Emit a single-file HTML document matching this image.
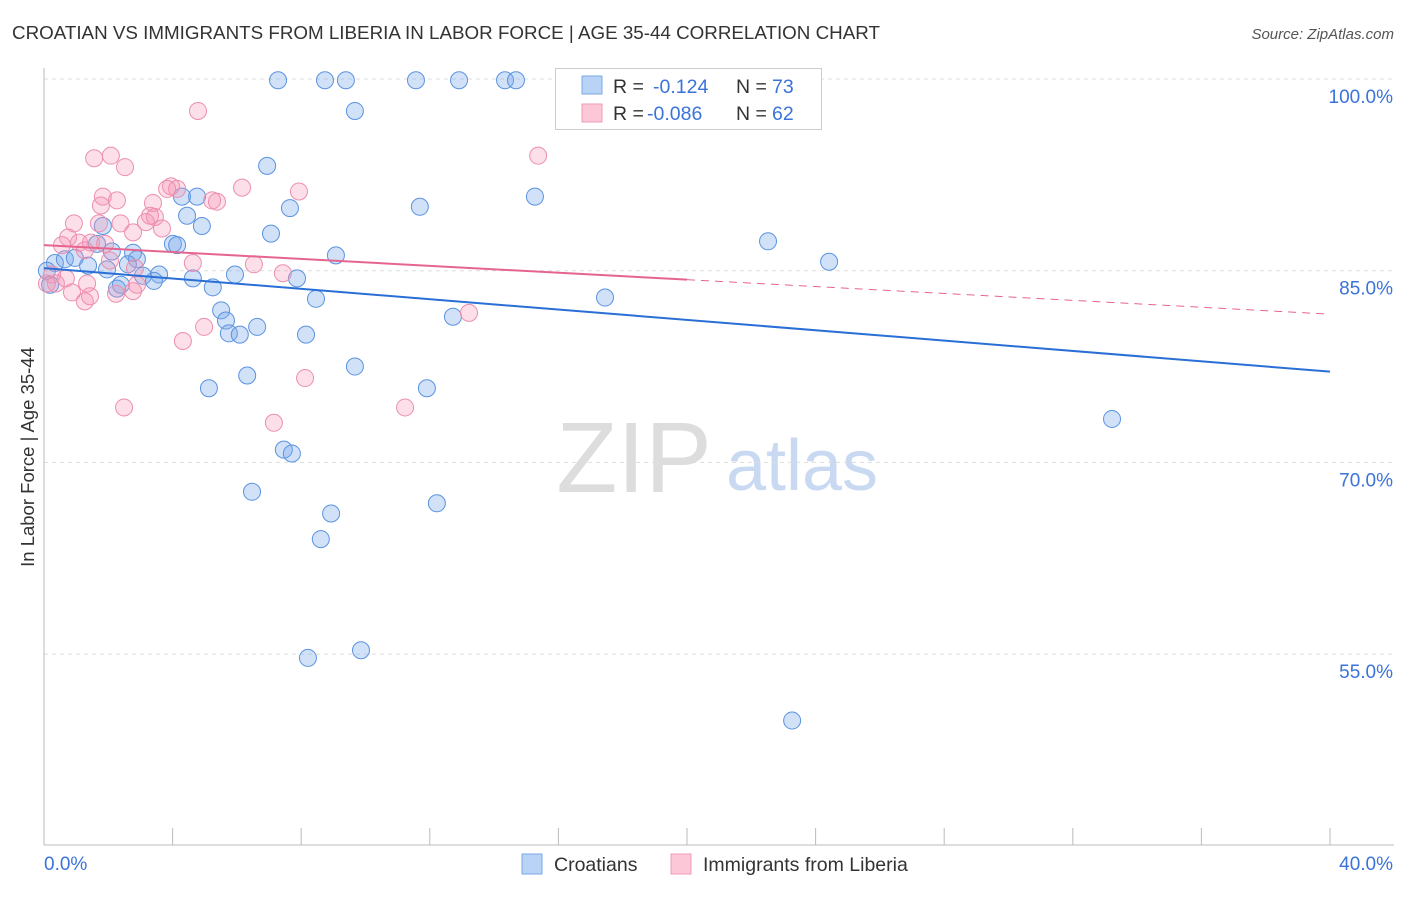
<!DOCTYPE html>
<html><head><meta charset="utf-8"><style>
body{margin:0;background:#fff;font-family:"Liberation Sans",sans-serif;}
svg text{font-family:"Liberation Sans",sans-serif;}
</style></head><body>
<svg id="chart" width="1406" height="892" xmlns="http://www.w3.org/2000/svg">
<text x="12" y="39" font-size="18.8" fill="#333">CROATIAN VS IMMIGRANTS FROM LIBERIA IN LABOR FORCE | AGE 35-44 CORRELATION CHART</text>
<text x="1394" y="39" font-size="15" fill="#555" font-style="italic" text-anchor="end">Source: ZipAtlas.com</text>
<text x="0" y="0" transform="translate(34,457) rotate(-90)" font-size="18.5" fill="#333" text-anchor="middle">In Labor Force | Age 35-44</text>
<g>
<text x="634" y="492" font-size="100" fill="#ddd" font-family="Liberation Serif" text-anchor="middle">ZIP</text>
<text x="802" y="490" font-size="72" fill="#c9d9f2" text-anchor="middle">atlas</text>
</g>
<g id="grid"></g><g id="axes"></g><g id="pts"></g><g id="trend"></g>
<g>
<rect x="555.5" y="68.5" width="266" height="61" fill="#fff" stroke="#ccc"/>
<rect x="582" y="76" width="20" height="18" fill="#b8d3f5" stroke="#7aa7e6"/>
<rect x="582" y="104" width="20" height="18" fill="#fcc8d8" stroke="#ef9bb6"/>
<text x="613" y="93" font-size="19.5" fill="#333">R = </text><text x="653" y="93" font-size="19.5" fill="#3b73d9">-0.124</text>
<text x="736" y="93" font-size="19.5" fill="#333">N = </text><text x="772" y="93" font-size="19.5" fill="#3b73d9">73</text>
<text x="613" y="120" font-size="19.5" fill="#333">R = </text><text x="647" y="120" font-size="19.5" fill="#3b73d9">-0.086</text>
<text x="736" y="120" font-size="19.5" fill="#333">N = </text><text x="772" y="120" font-size="19.5" fill="#3b73d9">62</text>
</g>
<g>
<rect x="522" y="854" width="20" height="20" fill="#b8d3f5" stroke="#7aa7e6"/>
<text x="554" y="871" font-size="19.5" fill="#333">Croatians</text>
<rect x="671" y="854" width="20" height="20" fill="#fcc8d8" stroke="#ef9bb6"/>
<text x="703" y="871" font-size="19.5" fill="#333">Immigrants from Liberia</text>
</g>
</svg>
<script>
const yTicks=[100,85,70,55];
const xTickLabels=["0.0%","40.0%"];
const blueX=[7.28,8.74,9.39,11.57,12.91,14.34,14.68,16.83,9.67,6.94,15.27,4.76,4.29,7.65,11.69,4.45,4.91,1.83,7.06,4.01,4.14,1.65,22.52,9.08,24.42,0.34,0.65,0.96,1.37,1.96,2.11,2.77,2.89,2.61,3.08,3.58,3.42,4.63,5.94,7.87,5.25,2.39,2.27,8.46,17.45,5.51,5.66,5.75,6.09,6.63,8.15,12.72,9.67,6.32,5.13,11.91,33.22,7.46,7.71,6.47,12.22,8.93,8.61,8.21,9.86,23.27,0.19,0.09];
const blueY=[99.9,99.9,99.9,99.9,99.9,99.9,99.9,99.9,97.5,93.2,90.8,90.8,90.8,89.9,90.0,89.3,88.5,88.5,87.9,87.1,87.0,87.1,87.3,86.2,85.7,85.6,85.9,86.0,85.4,85.1,86.5,86.4,85.9,85.5,84.6,84.7,84.2,84.4,84.7,84.4,83.7,83.9,83.6,82.8,82.9,81.9,81.1,80.1,80.0,80.6,80.0,81.4,77.5,76.8,75.8,75.8,73.4,71.0,70.7,67.7,66.8,66.0,64.0,54.7,55.3,49.8,83.9,85.0];
const pinkX=[4.79,1.56,2.08,2.52,15.37,3.95,4.14,3.83,6.16,7.93,1.83,2.27,1.77,5.23,5.38,3.39,0.93,1.71,2.38,3.30,3.45,3.17,3.67,2.77,0.75,1.09,1.46,1.90,1.27,0.56,2.83,2.05,4.63,6.53,7.43,0.68,0.25,0.37,1.34,0.87,1.27,1.43,2.24,2.77,2.89,13.22,4.98,4.32,8.12,11.23,2.49,7.15,0.09];
const pinkY=[97.5,93.8,94.0,93.1,94.0,91.6,91.4,91.4,91.5,91.2,90.8,90.5,90.1,90.5,90.4,90.3,88.7,88.7,88.7,89.3,89.2,88.8,88.3,88.0,87.6,87.2,87.2,87.1,86.6,87.0,85.2,85.8,85.6,85.5,84.8,84.4,84.7,84.0,84.0,83.3,82.6,83.0,83.2,83.4,83.9,81.7,80.6,79.5,76.6,74.3,74.3,73.1,84.0];
const blueTrend=[85.2,77.1];
const pinkTrend=[87.0,81.6];
const pinkSolidEnd=20.0;
const X0=44,X1=1330,XMAX=40;
const xs=v=>X0+v/XMAX*(X1-X0);
const ys=v=>79+(100-v)*12.78;
const NS="http://www.w3.org/2000/svg";
function mk(tag,attrs,parent){const e=document.createElementNS(NS,tag);for(const k in attrs)e.setAttribute(k,attrs[k]);document.getElementById(parent).appendChild(e);return e;}
yTicks.forEach(t=>{
 const l=mk("line",{x1:X0,x2:1394,y1:ys(t),y2:ys(t),stroke:"#ddd","stroke-dasharray":"4,4"},"grid");
 
 
 const tx=mk("text",{x:1393,y:ys(t)+24,"font-size":19,fill:"#3b73d9","text-anchor":"end"},"grid");
 tx.textContent=t.toFixed(1)+"%";
 
 
});
const ax=mk("line",{x1:X0,x2:X0,y1:68,y2:845,stroke:"#bbb"},"axes");


const bx=mk("line",{x1:X0,x2:1394,y1:845,y2:845,stroke:"#bbb"},"axes");


for(let i=0;i<=10;i++){const v=i*4;
 const t=mk("line",{x1:xs(v),x2:xs(v),y1:828,y2:845,stroke:"#bbb"},"axes");
 
 
}
const l0=mk("text",{x:44,y:870,"font-size":19,fill:"#3b73d9"},"axes");l0.textContent=xTickLabels[0];


const l1=mk("text",{x:1393,y:870,"font-size":19,fill:"#3b73d9","text-anchor":"end"},"axes");l1.textContent=xTickLabels[1];


blueX.forEach((v,i)=>{const c=mk("circle",{cx:xs(v),cy:ys(blueY[i]),r:8.5,fill:"rgba(120,170,235,0.35)",stroke:"#5b93e0","stroke-width":1},"pts");
 
 });
pinkX.forEach((v,i)=>{const c=mk("circle",{cx:xs(v),cy:ys(pinkY[i]),r:8.5,fill:"rgba(245,150,180,0.3)",stroke:"#ec8fae","stroke-width":1},"pts");
 
 });
const bt=mk("line",{x1:xs(0),y1:ys(blueTrend[0]),x2:xs(40),y2:ys(blueTrend[1]),stroke:"#2a6fd6","stroke-width":2},"trend");


const pm=pinkTrend[0]+(pinkTrend[1]-pinkTrend[0])*pinkSolidEnd/40;
const pt=mk("line",{x1:xs(0),y1:ys(pinkTrend[0]),x2:xs(pinkSolidEnd),y2:ys(pm),stroke:"#e5658f","stroke-width":2},"trend");


const pd=mk("line",{x1:xs(pinkSolidEnd),y1:ys(pm),x2:xs(40),y2:ys(pinkTrend[1]),stroke:"#e5658f","stroke-width":1,"stroke-dasharray":"8,6"},"trend");


</script>
</body></html>
